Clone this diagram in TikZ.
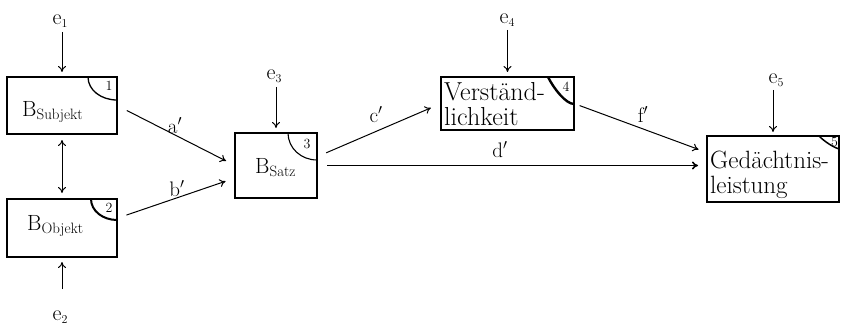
\documentclass[tikz,border=0pt]{standalone}
\usetikzlibrary{arrows.meta,calc}
\newcommand{\Bs}[1]{B\raisebox{-3pt}{\fontsize{15}{15}\selectfont #1}}
\newcommand{\es}[1]{e\raisebox{-3pt}{\fontsize{12}{12}\selectfont #1}}
\begin{document}
\begin{tikzpicture}[x=1pt,y=-1pt,
  box/.style={draw, line width=1.3pt, inner sep=0pt, outer sep=0pt},
  txt/.style={inner sep=0pt, font=\fontsize{22}{24}\selectfont},
  big/.style={inner sep=0pt, font=\fontsize{26}{26}\selectfont},
  big5/.style={inner sep=0pt, font=\fontsize{25}{25}\selectfont},
  lbl/.style={inner sep=0pt, font=\fontsize{21}{24}\selectfont},
  num/.style={inner sep=0pt, font=\fontsize{14}{14}\selectfont},
  arr/.style={line width=1pt, -{To[length=6pt,width=8pt]}},
  corner/.style={line width=1.3pt}]
\useasboundingbox (0,0) rectangle (842,326);
% boxes
\node[box, minimum width=110pt, minimum height=57pt] (b1) at (62,105.5) {};
\node[box, minimum width=110pt, minimum height=58pt] (b2) at (62,228) {};
\node[box, minimum width=82pt, minimum height=65pt] (b3) at (276,165.5) {};
\node[box, minimum width=133pt, minimum height=53pt] (b4) at (507.5,103.5) {};
\node[box, minimum width=132pt, minimum height=66pt] (b5) at (773,169) {};
% box texts
\node[big, anchor=base west] (t4a) at (444,101) {Verständ-};
\node[big, anchor=base west] (t4b) at (444,125) {lichkeit};
\node[big5, anchor=base west] (t5a) at (710,168) {Gedächtnis-};
\node[big5, anchor=base west] (t5b) at (710,193) {leistung};
\node[txt, anchor=base west] (t1) at (22,117) {\Bs{Subjekt}};
\node[txt, anchor=base west] (t2) at (27,230) {\Bs{Objekt}};
\node[txt, anchor=base west] (t3) at (255,173) {\Bs{Satz}};
% corner marks
\draw[corner] ($(b1.north east)+(-29,0)$) .. controls +(0,13) and +(-16,0) .. ($(b1.north east)+(0,23)$);
\draw[corner, line width=2pt] ($(b2.north east)+(-26,0)$) .. controls +(0,12) and +(-14,0) .. ($(b2.north east)+(0,21)$);
\draw[corner, line width=1.1pt] ($(b3.north east)+(-29,0)$) .. controls +(0,15) and +(-16,0) .. ($(b3.north east)+(0,27)$);
\draw[corner, line width=2.4pt] ($(b4.north east)+(-26,0)$) .. controls +(6,12) and +(-8,0) .. ($(b4.north east)+(0,27)$);
\draw[corner, line width=1.5pt] ($(b5.north east)+(-20,0)$) .. controls +(6,6) and +(-6,-2) .. ($(b5.north east)+(0,13)$);
\node[num] (n1) at (109,86) {1};
\node[num] (n2) at (109,208) {2};
\node[num] (n3) at (307,144) {3};
\node[num] (n4) at (566,87) {4};
\node[num] (n5) at (834.5,141.5) {5};
% e labels
\node[txt, anchor=base] (e1) at (60,25) {\es{1}};
\node[txt, anchor=base] (e2) at (60,320) {\es{2}};
\node[txt, anchor=base] (e3) at (274,80) {\es{3}};
\node[txt, anchor=base] (e4) at (507,24) {\es{4}};
\node[txt, anchor=base] (e5) at (776,84) {\es{5}};
\draw[arr, shorten >=5pt] ($(e1.base -| b1.north)+(0,7)$) -- (b1.north);
\draw[arr, shorten >=5pt] ($(e2.base -| b2.south)+(0,-31)$) -- (b2.south);
\draw[arr, shorten >=5pt] ($(e3.base -| b3.north)+(0,7)$) -- (b3.north);
\draw[arr, shorten >=5pt] ($(e4.base -| b4.north)+(0,6)$) -- (b4.north);
\draw[arr, shorten >=4pt] ($(e5.base -| b5.north)+(0,6)$) -- (b5.north);
% connectors
\draw[line width=1pt, {To[length=6pt,width=8pt]}-{To[length=6pt,width=8pt]}, shorten <=6pt, shorten >=6pt] (b1.south) -- (b2.north);
\draw[arr, shorten <=11pt, shorten >=10pt] (b1.east) -- (b3.west);
\draw[arr, shorten <=10pt, shorten >=10pt] (b2.10) -- (b3.197);
\draw[arr, shorten <=10pt, shorten >=11pt] (b3.12) -- (b4.west);
\draw[arr, line width=1.6pt, shorten <=10pt, shorten >=9pt] (b3.east) -- (b3.east -| b5.west);
\draw[arr, shorten <=6pt, shorten >=9pt] (b4.east) -- (b5.166);
% connector labels
\node[lbl, anchor=base] (la) at (175,133) {a$'$};
\node[lbl, anchor=base] (lb) at (177,196) {b$'$};
\node[lbl, anchor=base] (lc) at (376,122) {c$'$};
\node[lbl, anchor=base] (ld) at (500,157) {d$'$};
\node[lbl, anchor=base] (lf) at (643,122) {f$'$};
\end{tikzpicture}
\end{document}
